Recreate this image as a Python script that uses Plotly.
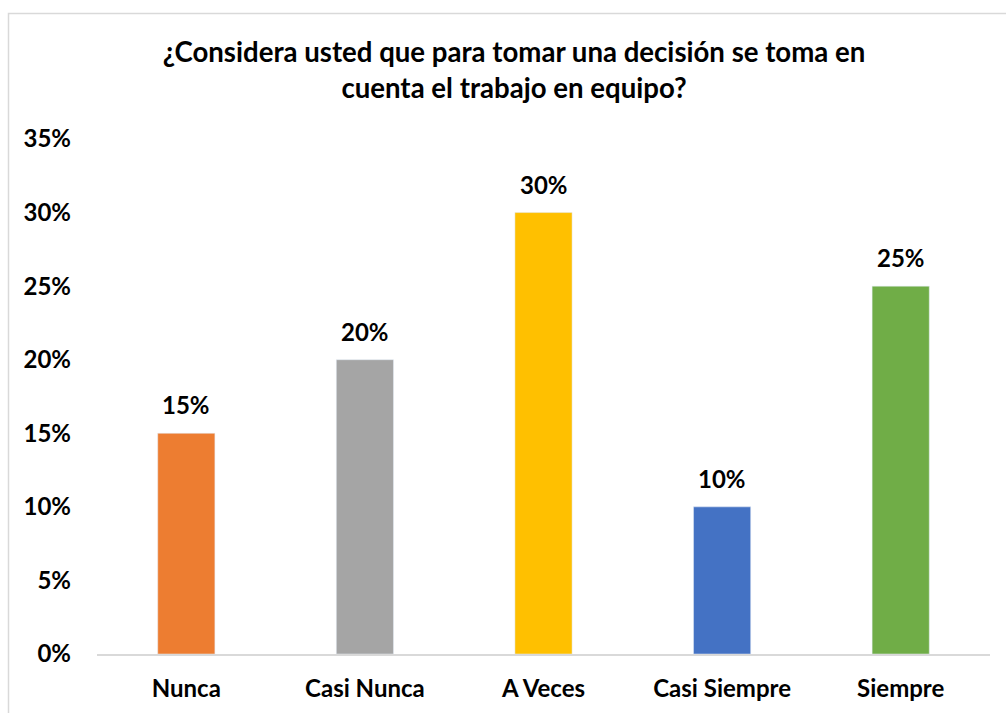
import plotly.graph_objects as go

categories = ["Nunca", "Casi Nunca", "A Veces", "Casi Siempre", "Siempre"]
values = [0.15, 0.20, 0.30, 0.10, 0.25]
bar_colors = ["#ED7D31", "#A5A5A5", "#FFC000", "#4472C4", "#70AD47"]

W, H = 1006, 713
L, R, T, B = 97, 16, 139, 59
pw, ph = W - L - R, H - T - B

FONT = "Lato, 'Open Sans', sans-serif"
BOLD = {"family": FONT, "color": "#000000", "weight": "bold"}


def px_x(x):
    return (x - L) / pw


def px_y(y):
    return (H - B - y) / ph


fig = go.Figure(go.Bar(
    x=categories,
    y=values,
    marker_color=bar_colors,
    width=0.32,
    hoverinfo="x+y",
))

# data labels above each bar
for cat, val in zip(categories, values):
    fig.add_annotation(
        x=cat, y=val, text=f"{val:.0%}",
        showarrow=False, yanchor="bottom", yshift=12,
        font={**BOLD, "size": 24},
    )

fig.update_layout(
    width=W,
    height=H,
    paper_bgcolor="white",
    plot_bgcolor="white",
    margin={"l": L, "r": R, "t": T, "b": B, "pad": 0},
    font={"family": FONT, "color": "#000000", "size": 24},
    title={
        "text": "¿Considera usted que para tomar una decisión se toma en<br>cuenta el trabajo en equipo?",
        "x": 514 / W,
        "xanchor": "center",
        "y": 1 - 62 / H,
        "yanchor": "middle",
        "font": {**BOLD, "size": 27.6},
    },
    showlegend=False,
    xaxis={
        "showgrid": False,
        "showline": True,
        "linecolor": "#D9D9D9",
        "linewidth": 1.5,
        "ticks": "",
        "ticklabelstandoff": 12,
        "tickfont": {**BOLD, "size": 24},
    },
    yaxis={
        "range": [0, 0.35],
        "tickvals": [0, 0.05, 0.10, 0.15, 0.20, 0.25, 0.30, 0.35],
        "tickformat": ".0%",
        "showgrid": False,
        "zeroline": False,
        "showline": False,
        "ticks": "",
        "ticklabelstandoff": 25,
        "tickfont": {**BOLD, "size": 24},
    },
    shapes=[{
        "type": "rect",
        "xref": "paper",
        "yref": "paper",
        "x0": px_x(8.5),
        "x1": px_x(1012),
        "y0": px_y(720),
        "y1": px_y(13.5),
        "line": {"color": "#D9D9D9", "width": 1.5},
        "layer": "below",
    }],
)

fig.write_html(
    "out.html",
    config={"displayModeBar": False},
    post_script="document.body.style.margin='0px';",
)
